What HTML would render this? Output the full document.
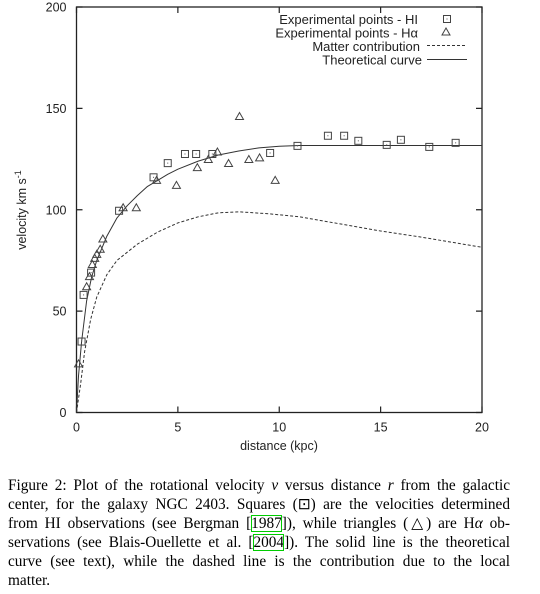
<!DOCTYPE html>
<html><head><meta charset="utf-8"><style>
body{margin:0;background:#fff;width:540px;height:594px;overflow:hidden;position:relative}
svg{position:absolute;left:0;top:0}
.cap{position:absolute;left:8px;width:502px;font-family:"Liberation Serif",serif;font-size:15.3px;line-height:19px;color:#000}
.cap div{text-align:justify;text-align-last:justify;white-space:nowrap;height:19px}
.cap div.last{text-align-last:left}
.cite{outline:1px solid #0c0;outline-offset:-1px}
</style></head><body>
<svg id="chart" width="540" height="460" font-family="Liberation Sans, sans-serif"></svg>
<div class="cap" style="top:476px">
<div>Figure 2: Plot of the rotational velocity <i>v</i> versus distance <i>r</i> from the galactic</div>
<div>center, for the galaxy NGC 2403. Squares (⊡) are the velocities determined</div>
<div>from HI observations (see Bergman [<span class="cite">1987</span>]), while triangles (△) are H<i>α</i> ob-</div>
<div>servations (see Blais-Ouellette et al. [<span class="cite">2004</span>]). The solid line is the theoretical</div>
<div>curve (see text), while the dashed line is the contribution due to the local</div>
<div class="last">matter.</div>
</div>
<script>
const hiX=[0.25,0.35,0.72,2.1,3.8,4.5,5.35,5.9,6.7,9.55,10.9,12.4,13.2,13.9,15.3,16,17.4,18.7];
const hiV=[35,58,69,99.5,116,123,127.5,127.5,127.5,128,131.5,136.5,136.5,134,132,134.5,131,133];
const haX=[0.1,0.5,0.64,0.78,0.9,1.0,1.17,1.3,2.3,2.95,3.95,4.93,5.96,6.5,6.95,7.5,8.04,8.5,9.03,9.8];
const haV=[24,62,67,73,76,78,80.5,85.6,101,101,114.5,112,120.8,124.8,128.5,122.8,146,124.8,125.6,114.5];
const thX=[0,0.1,0.25,0.5,0.75,1,1.5,2,2.5,3,3.5,4,4.5,5,6,7,8,9,10,11,12,20];
const thV=[0,18,35,55,67,75,87,96,102,107,111.5,114.5,117.5,120,124,127,129,130.5,131.3,131.7,131.7,131.7];
const mX=[0,0.2,0.4,0.7,1,1.5,2,3,4,5,6,7,8,9.5,11,13,15,17,20];
const mV=[0,14,30,46,57,68,75,83,89,93.5,96.5,98.5,99,98,96.5,93,89.5,86.5,81.5];
const xTicks=[0,5,10,15,20], yTicks=[0,50,100,150,200];
const X0=76.5,X1=482,Y0=412.5,Y1=7;
const sx=v=>X0+(X1-X0)*v/20, sy=v=>Y0-(Y0-Y1)*v/200;
const svg=document.getElementById('chart'),NS='http://www.w3.org/2000/svg';
function mk(t,a,p){const e=document.createElementNS(NS,t);for(const k in a)e.setAttribute(k,a[k]);(p||svg).appendChild(e);return e;}
let e=mk('rect',{x:X0,y:Y1,width:X1-X0,height:Y0-Y1,fill:'none',stroke:'#222','stroke-width':1.3});


xTicks.forEach(t=>{
 let l=mk('path',{d:`M${sx(t)},${Y0}v-6M${sx(t)},${Y1}v6`,stroke:'#222','stroke-width':1.2});
 
 
 let tx=mk('text',{x:sx(t),y:Y0+19,'text-anchor':'middle','font-size':12.5,fill:'#222'});tx.textContent=t;
 
 
});
yTicks.forEach(t=>{
 let l=mk('path',{d:`M${X0},${sy(t)}h6M${X1},${sy(t)}h-6`,stroke:'#222','stroke-width':1.2});
 
 
 let tx=mk('text',{x:X0-10,y:sy(t)+4.5,'text-anchor':'end','font-size':12.5,fill:'#222'});tx.textContent=t;
 
 
});
let xt=mk('text',{x:279,y:450,'text-anchor':'middle','font-size':12.5,fill:'#222'});xt.textContent='distance (kpc)';


let yt=mk('text',{transform:'translate(26,210) rotate(-90)','text-anchor':'middle','font-size':12.5,fill:'#222'});
yt.innerHTML='velocity km s<tspan dy="-5" font-size="9">-1</tspan>';


function line(xs,vs,dash,name){const d=xs.map((x,i)=>(i?'L':'M')+sx(x).toFixed(1)+','+sy(vs[i]).toFixed(1)).join('');
 const p=mk('path',{d,fill:'none',stroke:'#333','stroke-width':1,'stroke-dasharray':dash||'none','stroke-linejoin':'round'});
 
 }
line(mX,mV,'3,2','matter-contribution-line');
line(thX,thV,null,'theoretical-curve');
function sq(x,y,p){let g=mk('g',{},p);mk('rect',{x:x-3.5,y:y-3.5,width:7,height:7,fill:'none',stroke:'#444','stroke-width':1},g);mk('rect',{x:x-0.5,y:y-0.5,width:1,height:1,fill:'#555'},g);return g;}
function tri(x,y,p){return mk('path',{d:`M${x},${y-4}L${x+4},${y+3}L${x-4},${y+3}Z`,fill:'none',stroke:'#444','stroke-width':1},p);}
hiX.forEach((x,i)=>{const g=sq(sx(x),sy(hiV[i]));
 
 });
haX.forEach((x,i)=>{const g=tri(sx(x),sy(haV[i]));
 
 });
const lg=mk('g',{});


const labels=['Experimental points - HI','Experimental points - Hα','Matter contribution','Theoretical curve'];
labels.forEach((s,i)=>{const y=24+i*13.5;
 let t=mk('text',{x:418-(i>1?(i==2?-2:-4):0),y:y,'text-anchor':'end','font-size':13,fill:'#222'},lg);t.textContent=s;
 
 });
sq(447,19,lg);tri(446,32,lg);
mk('path',{d:'M427,45.5h40',stroke:'#333','stroke-dasharray':'3,2'},lg);
mk('path',{d:'M427,59.5h40',stroke:'#333'},lg);
</script>
</body></html>
